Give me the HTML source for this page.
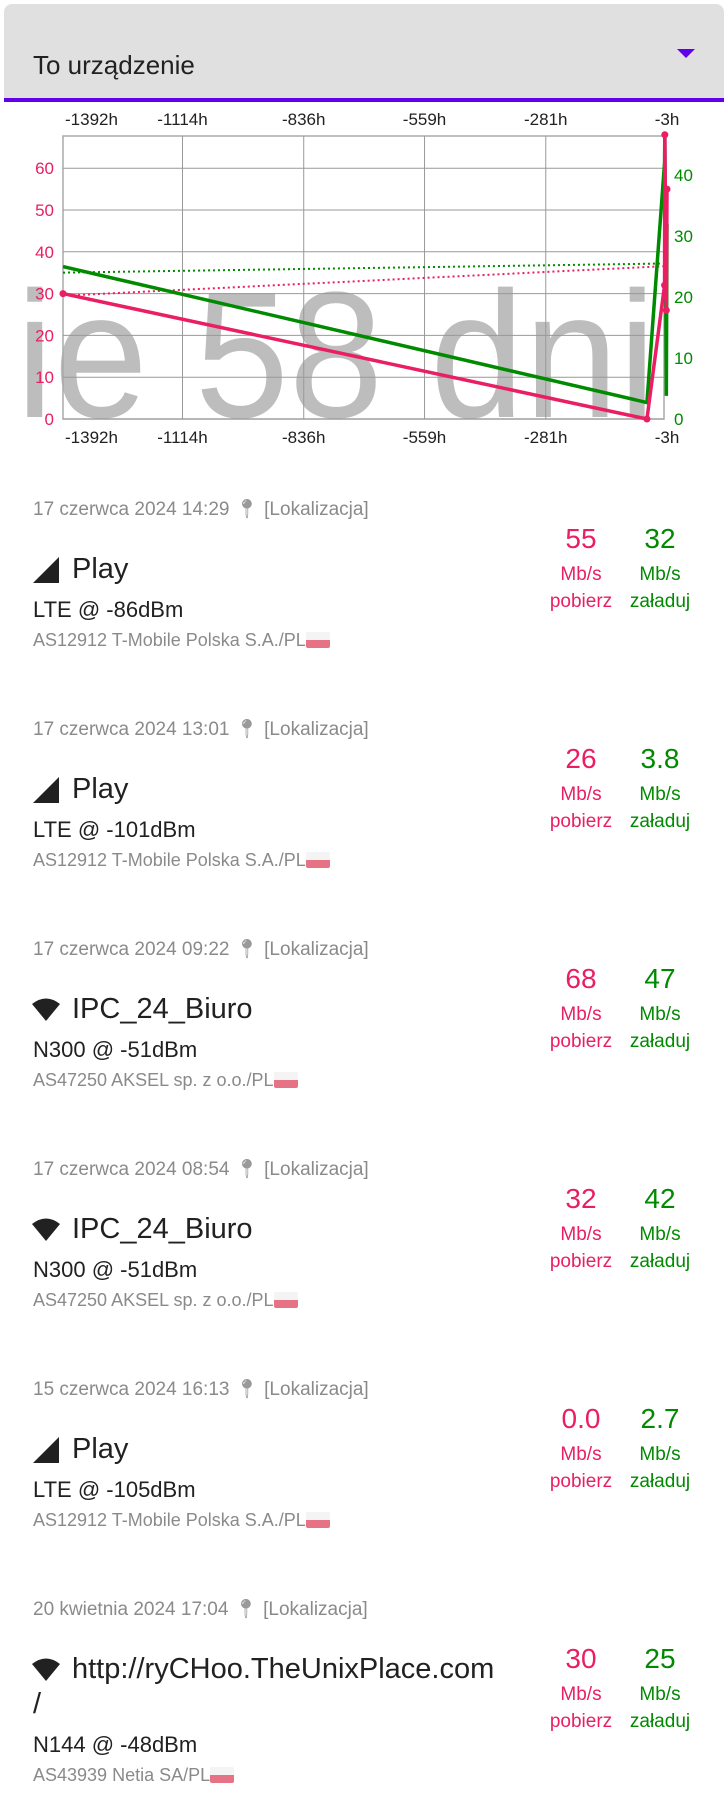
<!DOCTYPE html>
<html><head><meta charset="utf-8">
<style>
body{margin:0;width:728px;height:1815px;background:#fff;font-family:"Liberation Sans",sans-serif;position:relative;overflow:hidden}
.a{position:absolute;white-space:nowrap}
.date{font-size:19px;color:#8a8a8a}
.name{font-size:29px;color:#212121}
.tech{font-size:22px;color:#212121}
.as{font-size:18px;color:#8a8a8a}
.num{font-size:28px;text-align:center;width:90px}
.unit{font-size:19px;text-align:center;width:90px;line-height:27px}
.dl{color:#e91e63}.ul{color:#008a00}
.flag{display:inline-block;width:24px;height:16px;vertical-align:-2px;background:linear-gradient(#f4f4f4 50%,#e57385 50%);border-radius:2px}
</style></head><body>
<div class="a" style="left:4px;top:4px;width:720px;height:94px;background:#e0e0e0;border-radius:8px 8px 0 0;border-bottom:4px solid #6200ee">
  <div class="a" style="left:29px;top:46px;font-size:26px;color:#212121">To urządzenie</div>
  <div class="a" style="left:673px;top:45px;width:0;height:0;border-left:9px solid transparent;border-right:9px solid transparent;border-top:9px solid #6200ee"></div>
</div>
<svg id="chart" class="a" style="left:0;top:100px" width="728" height="350" viewBox="0 100 728 350"></svg>
<div id="list"></div>
<script>
const times=[-3,-4.5,-8,-8.6,-49,-1392];
const downloads=[55,26,68,32,0,30];
const uploads=[32,3.8,47,42,2.7,25];
const xTicks=[-1392,-1114,-836,-559,-281,-3];
const xTickLabels=["-1392h","-1114h","-836h","-559h","-281h","-3h"];
const leftTicks=[0,10,20,30,40,50,60];
const rightTicks=[0,10,20,30,40];
const dlTrend=[29.5,36.6];
const ulTrend=[24,25.5];
const NS="http://www.w3.org/2000/svg";
const L=63,R=664,T=136,B=419;
const x=t=>L+(t+1388)*(667-L)/1385;
const yl=v=>B-v*(B-T)/67.7;
const yr=v=>B-v*(B-T)/46.4;
const svg=document.getElementById('chart');
function mk(tag,at,name,parent){const e=document.createElementNS(NS,tag);for(const k in at)e.setAttribute(k,at[k]);


(parent||svg).appendChild(e);return e;}
const wm=mk('text',{x:16,y:417,'font-size':180,fill:'#bdbdbd',textLength:640,lengthAdjust:'spacingAndGlyphs','font-family':'Liberation Sans, sans-serif'},'watermark');wm.textContent='ie 58 dni';
mk('rect',{x:L,y:T,width:R-L,height:B-T,fill:'none',stroke:'#aaa','stroke-width':1.5},'plot-border');
leftTicks.forEach(v=>{mk('line',{x1:L,x2:R,y1:yl(v),y2:yl(v),stroke:'#999','stroke-width':1},'h-gridline');
const t=mk('text',{x:54,y:yl(v)+6,'text-anchor':'end','font-size':17,fill:'#e91e63'},'left-tick-label');t.textContent=v;});
rightTicks.forEach(v=>{const t=mk('text',{x:674,y:yr(v)+6,'font-size':17,fill:'#008a00'},'right-tick-label');t.textContent=v;});
xTicks.forEach((v,i)=>{const xx=Math.max(x(v),L);if(i>0&&i<xTicks.length-1)mk('line',{x1:xx,x2:xx,y1:T,y2:B,stroke:'#999','stroke-width':1},'v-gridline');
const anc=i==0?'start':'middle';const px=i==0?L+2:xx;
[125,443].forEach(yy=>{const t=mk('text',{x:px,y:yy,'text-anchor':anc,'font-size':17,fill:'#212121'},'x-tick-label');t.textContent=xTickLabels[i];});});
mk('line',{x1:x(-1388),y1:yl(dlTrend[0]),x2:x(-3),y2:yl(dlTrend[1]),stroke:'#e91e63','stroke-width':2,'stroke-dasharray':'2,3'},'download-trend');
mk('line',{x1:x(-1388),y1:yr(ulTrend[0]),x2:x(-3),y2:yr(ulTrend[1]),stroke:'#008a00','stroke-width':2,'stroke-dasharray':'2,3'},'upload-trend');
const cl=t=>Math.max(x(t),L);
mk('polyline',{points:times.map((t,i)=>cl(t)+','+yr(uploads[i])).join(' '),fill:'none',stroke:'#008a00','stroke-width':3.5},'upload-line');
mk('polyline',{points:times.map((t,i)=>cl(t)+','+yl(downloads[i])).join(' '),fill:'none',stroke:'#e91e63','stroke-width':3.5},'download-line');
times.forEach((t,i)=>mk('circle',{cx:cl(t),cy:yl(downloads[i]),r:3.5,fill:'#e91e63'},'download-point'));

const items=[
["17 czerwca 2024 14:29","cell","Play","LTE @ -86dBm","AS12912 T-Mobile Polska S.A./PL","55","32"],
["17 czerwca 2024 13:01","cell","Play","LTE @ -101dBm","AS12912 T-Mobile Polska S.A./PL","26","3.8"],
["17 czerwca 2024 09:22","wifi","IPC_24_Biuro","N300 @ -51dBm","AS47250 AKSEL sp. z o.o./PL","68","47"],
["17 czerwca 2024 08:54","wifi","IPC_24_Biuro","N300 @ -51dBm","AS47250 AKSEL sp. z o.o./PL","32","42"],
["15 czerwca 2024 16:13","cell","Play","LTE @ -105dBm","AS12912 T-Mobile Polska S.A./PL","0.0","2.7"],
["20 kwietnia 2024 17:04","wifi","http://ryCHoo.TheUnixPlace.com","N144 @ -48dBm","AS43939 Netia SA/PL","30","25"]];
let h='';
items.forEach((it,i)=>{const b=515+220*i;const last=i==5;const ex=last?35:0;
const icon=it[1]=='cell'?'<svg width="26" height="26" style="position:absolute;left:-39px;top:4px"><polygon points="0,26 26,26 26,0" fill="#212121"/></svg>'
:'<svg width="28" height="24" style="position:absolute;left:-40px;top:4px"><path d="M0,7 Q14,-4 28,7 L14,24 Z" fill="#212121"/></svg>';
h+=`<div>
<div class="a date" style="left:33px;top:${b-18}px">${it[0]} <span style="color:#999">&#x1F4CD;&#xFE0E;</span> [Lokalizacja]</div>
<div class="a name" style="left:72px;top:${b+38}px">${icon}${it[2]}</div>
${last?`<div class="a name" style="left:33px;top:${b+73}px">/</div>`:''}
<div class="a tech" style="left:33px;top:${b+82+ex}px">${it[3]}</div>
<div class="a as" style="left:33px;top:${b+115+ex}px">${it[4]}<span class="flag"></span></div>
<div class="a num dl" style="left:536px;top:${b+8+(last?20:0)}px">${it[5]}</div>
<div class="a num ul" style="left:615px;top:${b+8+(last?20:0)}px">${it[6]}</div>
<div class="a unit dl" style="left:536px;top:${b+46+(last?20:0)}px">Mb/s<br>pobierz</div>
<div class="a unit ul" style="left:615px;top:${b+46+(last?20:0)}px">Mb/s<br>załaduj</div>
</div>`;});
document.getElementById('list').innerHTML=h;
</script>
</body></html>
